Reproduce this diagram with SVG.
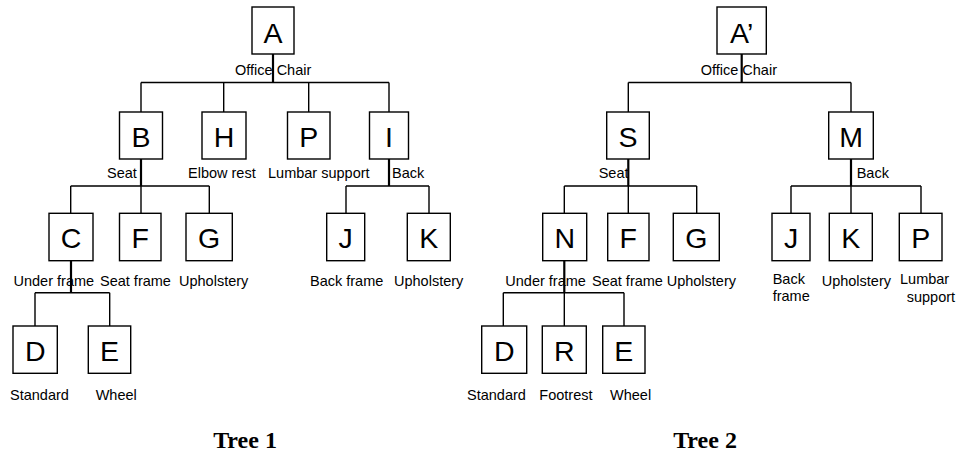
<svg xmlns="http://www.w3.org/2000/svg" width="956" height="454" viewBox="0 0 956 454">
<style>
.box{fill:#fff;stroke:#000;stroke-width:1.4}
.ltr{font-family:"Liberation Sans",Arial,sans-serif;font-size:28.5px;text-anchor:middle;fill:#000}
.lbl{font-family:"Liberation Sans",Arial,sans-serif;font-size:14.5px;fill:#000}
.ttl{font-family:"Liberation Serif","Times New Roman",serif;font-size:24px;font-weight:bold;text-anchor:middle;fill:#000}
.ln{stroke:#000;stroke-width:1.4;fill:none}
.st{stroke:#000;stroke-width:2.2;fill:none}
</style>
<rect width="956" height="454" fill="#fff"/>
<g id="connectors">
  <path class="st" d="M273 54V82.5"/>
  <path class="ln" d="M141 82.5H389M141 82.5V112M223.7 82.5V112M308.7 82.5V112M389 82.5V112"/>
  <path class="st" d="M141 159V186"/>
  <path class="ln" d="M70.7 186H209.3M70.7 186V213M141 186V213M209.3 186V213"/>
  <path class="st" d="M389 159V186"/>
  <path class="ln" d="M346 186H429M346 186V213M429 186V213"/>
  <path class="st" d="M71 261V292.7"/>
  <path class="ln" d="M35 292.7H109.7M35 292.7V326M109.7 292.7V326"/>
  <path class="st" d="M741.7 54V82.5"/>
  <path class="ln" d="M628.3 82.5H851M628.3 82.5V112M851 82.5V112"/>
  <path class="st" d="M628.3 159V186"/>
  <path class="ln" d="M564.3 186H696.7M564.3 186V213M628.3 186V213M696.7 186V213"/>
  <path class="st" d="M851 159V186"/>
  <path class="ln" d="M791 186H921M791 186V213M851 186V213M921 186V213"/>
  <path class="st" d="M564.3 261V292.7"/>
  <path class="ln" d="M503.3 292.7H624M503.3 292.7V326M564.3 292.7V326M624 292.7V326"/>
</g>
<g id="t1-A"><rect class="box" x="252" y="7" width="42" height="47"/><text class="ltr" x="273" y="43">A</text><text class="lbl" x="235" y="75">Office Chair</text></g>
<g id="t1-B"><rect class="box" x="119.5" y="112" width="43" height="47"/><text class="ltr" x="141" y="147">B</text><text class="lbl" x="107" y="178">Seat</text></g>
<g id="t1-H"><rect class="box" x="202" y="112" width="44" height="47"/><text class="ltr" x="224" y="147">H</text><text class="lbl" x="188" y="178">Elbow rest</text></g>
<g id="t1-P"><rect class="box" x="287.5" y="112" width="42.5" height="47"/><text class="ltr" x="308.7" y="147">P</text><text class="lbl" x="268" y="178">Lumbar support</text></g>
<g id="t1-I"><rect class="box" x="369.5" y="112" width="39" height="47"/><text class="ltr" x="389" y="147">I</text><text class="lbl" x="392" y="178">Back</text></g>
<g id="t1-C"><rect class="box" x="49" y="213.3" width="44" height="47.4"/><text class="ltr" x="71" y="247.5">C</text><text class="lbl" x="13.5" y="285.7">Under frame</text></g>
<g id="t1-F"><rect class="box" x="119.5" y="213.3" width="41.5" height="47.4"/><text class="ltr" x="140.3" y="247.5">F</text><text class="lbl" x="100" y="285.7">Seat frame</text></g>
<g id="t1-G"><rect class="box" x="186" y="213.3" width="46.3" height="47.4"/><text class="ltr" x="209.2" y="247.5">G</text><text class="lbl" x="179" y="285.7">Upholstery</text></g>
<g id="t1-J"><rect class="box" x="326.7" y="213.3" width="38" height="47.4"/><text class="ltr" x="345.7" y="247.5">J</text><text class="lbl" x="310" y="285.7">Back frame</text></g>
<g id="t1-K"><rect class="box" x="407.3" y="213.3" width="43" height="47.4"/><text class="ltr" x="428.8" y="247.5">K</text><text class="lbl" x="394" y="285.7">Upholstery</text></g>
<g id="t1-D"><rect class="box" x="13" y="326" width="44.3" height="47.3"/><text class="ltr" x="35.2" y="360.5">D</text><text class="lbl" x="10" y="400">Standard</text></g>
<g id="t1-E"><rect class="box" x="88.3" y="326" width="42.4" height="47.3"/><text class="ltr" x="109.5" y="360.5">E</text><text class="lbl" x="95.7" y="400">Wheel</text></g>
<g id="t2-A"><rect class="box" x="717" y="7" width="49.3" height="47"/><text class="ltr" x="741.7" y="43">A’</text><text class="lbl" x="700.7" y="75">Office Chair</text></g>
<g id="t2-S"><rect class="box" x="606.7" y="112" width="42.6" height="47"/><text class="ltr" x="628" y="147">S</text><text class="lbl" x="598.7" y="178">Seat</text></g>
<g id="t2-M"><rect class="box" x="828.7" y="112" width="44.6" height="47"/><text class="ltr" x="851" y="147">M</text><text class="lbl" x="856.7" y="178">Back</text></g>
<g id="t2-N"><rect class="box" x="542.7" y="213.3" width="44" height="47.4"/><text class="ltr" x="564.7" y="247.5">N</text><text class="lbl" x="505.3" y="285.7">Under frame</text></g>
<g id="t2-F"><rect class="box" x="607.7" y="213.3" width="41.3" height="47.4"/><text class="ltr" x="628.3" y="247.5">F</text><text class="lbl" x="592" y="285.7">Seat frame</text></g>
<g id="t2-G"><rect class="box" x="673.3" y="213.3" width="46" height="47.4"/><text class="ltr" x="696.3" y="247.5">G</text><text class="lbl" x="666.7" y="285.7">Upholstery</text></g>
<g id="t2-J"><rect class="box" x="772" y="213.3" width="38" height="47.4"/><text class="ltr" x="791" y="247.5">J</text><text class="lbl" x="772.7" y="284">Back</text><text class="lbl" x="772.7" y="300.7">frame</text></g>
<g id="t2-K"><rect class="box" x="829.3" y="213.3" width="43" height="47.4"/><text class="ltr" x="850.8" y="247.5">K</text><text class="lbl" x="821.7" y="285.7">Upholstery</text></g>
<g id="t2-P"><rect class="box" x="899.3" y="213.3" width="42.7" height="47.4"/><text class="ltr" x="920.7" y="247.5">P</text><text class="lbl" x="900" y="284">Lumbar</text><text class="lbl" x="906.7" y="301.7">support</text></g>
<g id="t2-D"><rect class="box" x="481.7" y="326" width="45" height="47.3"/><text class="ltr" x="504.2" y="360.5">D</text><text class="lbl" x="467" y="400">Standard</text></g>
<g id="t2-R"><rect class="box" x="542.3" y="326" width="44" height="47.3"/><text class="ltr" x="564.3" y="360.5">R</text><text class="lbl" x="539.3" y="400">Footrest</text></g>
<g id="t2-E"><rect class="box" x="602.7" y="326" width="42.3" height="47.3"/><text class="ltr" x="623.8" y="360.5">E</text><text class="lbl" x="610" y="400">Wheel</text></g>
<g id="titles"><text class="ttl" x="245" y="447.5">Tree 1</text><text class="ttl" x="705" y="447.5">Tree 2</text></g>
</svg>
